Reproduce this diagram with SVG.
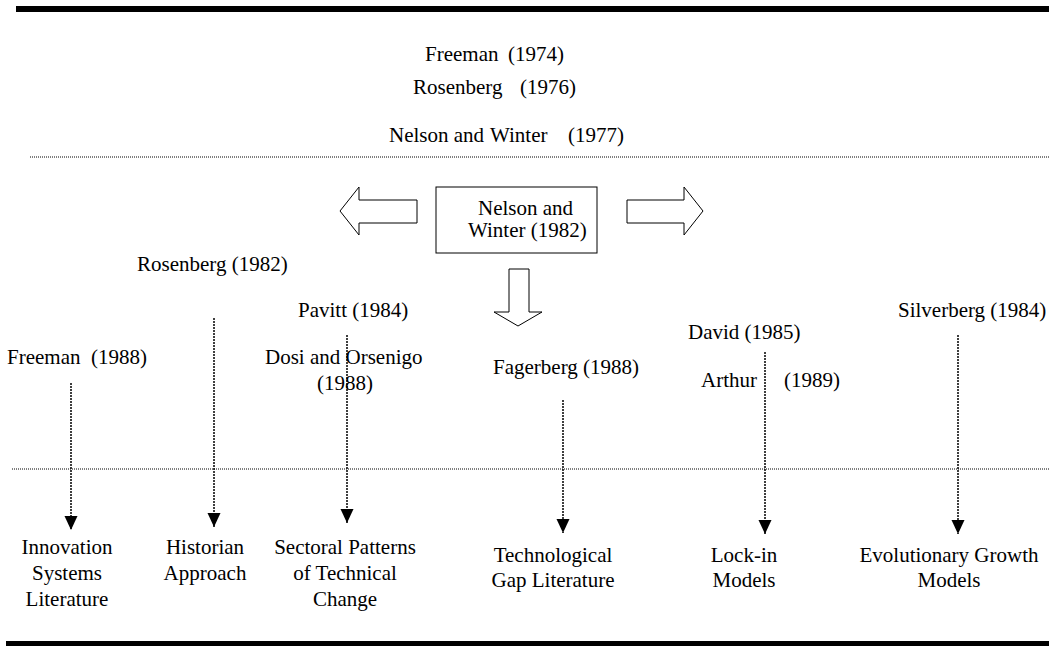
<svg xmlns="http://www.w3.org/2000/svg" width="1056" height="646" viewBox="0 0 1056 646">
<style>
text{font-family:"Liberation Serif","Times New Roman",serif;font-size:21px;fill:#000}
.mid{text-anchor:middle}
.dot{stroke:#000;stroke-width:1;stroke-dasharray:1 1;fill:none}
.conn{stroke:#000;stroke-width:1.5;stroke-dasharray:2 1;fill:none}
.big{fill:#fff;stroke:#000;stroke-width:1}
</style>
<defs>
<marker id="ah" markerUnits="userSpaceOnUse" markerWidth="16" markerHeight="16" viewBox="0 0 16 16" refX="15" refY="8" orient="auto">
<path d="M1,1.5 L15,8 L1,14.5 Z" fill="#000"/>
</marker>
</defs>
<rect x="16" y="6" width="1033" height="6" fill="#000"/>
<rect x="6" y="641" width="1043" height="5" fill="#000"/>
<line class="dot" x1="30" y1="157" x2="1050" y2="157"/>
<line class="dot" x1="12" y1="469" x2="1050" y2="469"/>
<g id="top-refs">
<text y="61"><tspan x="425">Freeman</tspan><tspan x="508">(1974)</tspan></text>
<text y="94"><tspan x="413">Rosenberg</tspan><tspan x="520">(1976)</tspan></text>
<text y="142"><tspan x="389">Nelson and</tspan><tspan x="490">Winter</tspan><tspan x="568">(1977)</tspan></text>
</g>
<g id="nelson-winter-1982">
<rect x="436" y="187" width="161" height="66" fill="#fff" stroke="#000" stroke-width="1"/>
<text x="478" y="215">Nelson and</text>
<text x="468" y="237">Winter (1982)</text>
</g>
<g id="big-arrows">
<polygon class="big" points="417,200 359,200 359,187 340,211 359,235 359,223 417,223"/>
<polygon class="big" points="627,200 684,200 684,187 703,211 684,235 684,223 627,223"/>
<polygon class="big" points="509,269 529,269 529,312 542,312 518,326 494,312 509,312"/>
</g>
<g id="sources">
<text x="137" y="271">Rosenberg (1982)</text>
<text x="298" y="317">Pavitt (1984)</text>
<text x="265" y="364">Dosi and Orsenigo</text>
<text x="317" y="390">(1988)</text>
<text y="364"><tspan x="7">Freeman</tspan><tspan x="91">(1988)</tspan></text>
<text x="493" y="374">Fagerberg (1988)</text>
<text x="688" y="339">David (1985)</text>
<text y="387"><tspan x="701">Arthur</tspan><tspan x="784">(1989)</tspan></text>
<text x="898" y="317">Silverberg (1984)</text>
</g>
<g id="connectors">
<line class="conn" x1="71" y1="383" x2="71" y2="530" marker-end="url(#ah)"/>
<line class="conn" x1="214" y1="318" x2="214" y2="527" marker-end="url(#ah)"/>
<line class="conn" x1="347" y1="335" x2="347" y2="523" marker-end="url(#ah)"/>
<line class="conn" x1="563" y1="400" x2="563" y2="533" marker-end="url(#ah)"/>
<line class="conn" x1="765" y1="352" x2="765" y2="534" marker-end="url(#ah)"/>
<line class="conn" x1="958" y1="335" x2="958" y2="534" marker-end="url(#ah)"/>
</g>
<g id="innovation-systems">
<text class="mid" x="67" y="554">Innovation</text>
<text class="mid" x="67" y="580">Systems</text>
<text class="mid" x="67" y="606">Literature</text>
</g>
<g id="historian-approach">
<text class="mid" x="205" y="554">Historian</text>
<text class="mid" x="205" y="580">Approach</text>
</g>
<g id="sectoral-patterns">
<text class="mid" x="345" y="554">Sectoral Patterns</text>
<text class="mid" x="345" y="580">of Technical</text>
<text class="mid" x="345" y="606">Change</text>
</g>
<g id="technological-gap">
<text class="mid" x="553" y="562">Technological</text>
<text class="mid" x="553" y="587">Gap Literature</text>
</g>
<g id="lock-in">
<text class="mid" x="744" y="562">Lock-in</text>
<text class="mid" x="744" y="587">Models</text>
</g>
<g id="evolutionary-growth">
<text class="mid" x="949" y="562">Evolutionary Growth</text>
<text class="mid" x="949" y="587">Models</text>
</g>
</svg>
